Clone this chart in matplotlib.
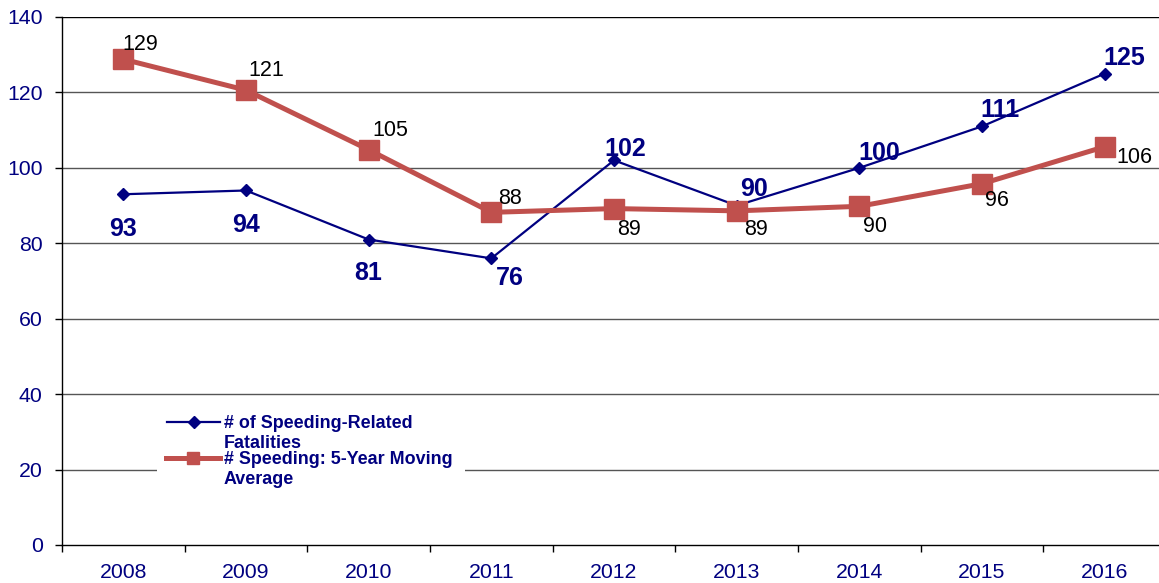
import matplotlib
matplotlib.use("Agg")
import matplotlib.pyplot as plt
from matplotlib.lines import Line2D
from matplotlib.patches import Rectangle

years = ["2008", "2009", "2010", "2011", "2012", "2013", "2014", "2015", "2016"]
fatalities = [93, 94, 81, 76, 102, 90, 100, 111, 125]
moving_avg = [128.8, 120.6, 104.8, 88.2, 89.2, 88.6, 89.8, 95.8, 105.6]
moving_avg_labels = [129, 121, 105, 88, 89, 89, 90, 96, 106]
yticks = [0, 20, 40, 60, 80, 100, 120, 140]
legend_lines = [["# of Speeding-Related", "Fatalities"], ["# Speeding: 5-Year Moving", "Average"]]

# label offsets in pixels (dx, dy)
blue_off = [(0, -35), (0, -35), (0, -33), (18, -20), (11, 11), (17, 17), (20, 15), (18, 16), (20, 16)]
red_off = [(17, 15), (20, 20), (22, 19), (19, 14), (15, -21), (19, -19), (16, -20), (15, -17), (30, -11)]

NAVY = "#000080"
RED = "#C0504D"
FONT = "Liberation Sans"
plt.rcParams["font.family"] = [FONT, "DejaVu Sans"]

W, H = 1159, 583
fig = plt.figure(figsize=(W / 100, H / 100), dpi=100)
left, right, bottom, top = 62, 1166, 545, 17
ax = fig.add_axes([left / W, (H - bottom) / H, (right - left) / W, (bottom - top) / H])

x = list(range(len(years)))
ax.set_xlim(-0.5, len(years) - 0.5)
ax.set_ylim(0, 140)

for v in yticks[1:]:
    ax.axhline(v, color="#000000" if v == 140 else "#555555", lw=1.0, zorder=1)

ax.plot(x, fatalities, color=NAVY, lw=1.6, marker="D", markersize=6.5, zorder=3)
ax.plot(x, moving_avg, color=RED, lw=3.6, marker="s", markersize=14, zorder=4)

for i, v in enumerate(fatalities):
    dx, dy = blue_off[i]
    ax.annotate(str(v), (x[i], v), xytext=(dx, dy), textcoords="offset pixels",
                ha="center", va="center", fontsize=18, fontweight="bold", color=NAVY, zorder=6)
for i, v in enumerate(moving_avg):
    dx, dy = red_off[i]
    ax.annotate(str(moving_avg_labels[i]), (x[i], v), xytext=(dx, dy), textcoords="offset pixels",
                ha="center", va="center", fontsize=15.5, color="black", zorder=6)

ax.set_yticks(yticks)
ax.set_yticklabels([str(t) for t in yticks], fontsize=15.3, color=NAVY)
ax.set_xticks(x)
ax.set_xticklabels(years, fontsize=15.3, color=NAVY)
ax.set_xticks([i - 0.5 for i in range(len(years) + 1)], minor=True)
ax.tick_params(axis="x", which="major", length=0, pad=13)
ax.tick_params(axis="x", which="minor", length=5, width=1, color="black")
ax.tick_params(axis="y", length=5, width=1, color="black", pad=9)
for s in ["top", "right"]:
    ax.spines[s].set_visible(False)
for s in ["left", "bottom"]:
    ax.spines[s].set_color("black")
    ax.spines[s].set_linewidth(1.0)

# legend (drawn manually to match alignment)
def px(xp, yp):
    return ((xp - left) / (right - left), (bottom - yp) / (bottom - top))

x0, y0 = px(157, 497)
x1, y1 = px(465, 405)
ax.add_patch(Rectangle((x0, y0), x1 - x0, y1 - y0, transform=ax.transAxes,
                       facecolor="white", edgecolor="none", zorder=5))
a, b = px(167, 422)
c, _ = px(220, 422)
ax.add_line(Line2D([a, (a + c) / 2, c], [b, b, b], transform=ax.transAxes, color=NAVY, lw=1.6,
                   marker="D", markersize=6.5, markevery=[1], zorder=6))
a2, b2 = px(166, 458)
c2, _ = px(220, 458)
ax.add_line(Line2D([a2, (a2 + c2) / 2, c2], [b2, b2, b2], transform=ax.transAxes, color=RED, lw=3.6,
                   marker="s", markersize=9, markevery=[1], zorder=6))
for (l1, l2), ys in zip(legend_lines, [(423, 443), (459, 479)]):
    for txt, yp in zip((l1, l2), ys):
        tx, ty = px(224, yp)
        ax.text(tx, ty, txt, transform=ax.transAxes, fontsize=12.9, fontweight="bold",
                color=NAVY, ha="left", va="center", zorder=7)

fig.savefig("out.png", dpi=100)
